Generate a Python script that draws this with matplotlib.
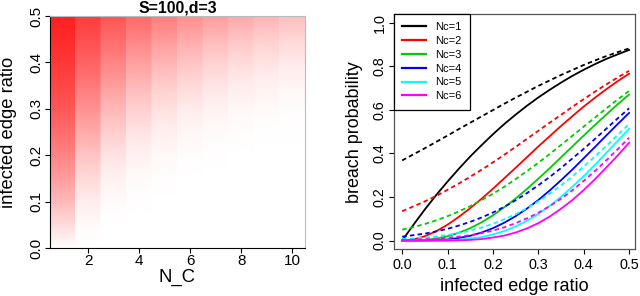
import numpy as np
import matplotlib.pyplot as plt
from matplotlib.colors import LinearSegmentedColormap

plt.rcParams['font.family'] = ['Liberation Sans', 'DejaVu Sans']

# x values of the right panel (infected edge ratio)
ratio = [0.000, 0.025, 0.050, 0.075, 0.100, 0.125, 0.150, 0.175, 0.200, 0.225, 0.250,
         0.275, 0.300, 0.325, 0.350, 0.375, 0.400, 0.425, 0.450, 0.475, 0.500]

# solid curves
solid_nc1 = [0.000, 0.073, 0.143, 0.209, 0.271, 0.330, 0.386, 0.438, 0.488, 0.535, 0.578,
             0.619, 0.657, 0.692, 0.725, 0.756, 0.784, 0.810, 0.834, 0.855, 0.875]
solid_nc2 = [0.000, 0.005, 0.020, 0.043, 0.073, 0.109, 0.149, 0.192, 0.238, 0.286, 0.334,
             0.383, 0.432, 0.479, 0.526, 0.571, 0.615, 0.656, 0.695, 0.732, 0.766]
solid_nc3 = [0.000, 0.000, 0.003, 0.009, 0.020, 0.036, 0.057, 0.084, 0.116, 0.153, 0.193,
             0.237, 0.284, 0.332, 0.382, 0.432, 0.482, 0.531, 0.579, 0.626, 0.670]
solid_nc4 = [0.000, 0.000, 0.000, 0.002, 0.005, 0.012, 0.022, 0.037, 0.057, 0.082, 0.112,
             0.147, 0.186, 0.230, 0.277, 0.326, 0.378, 0.430, 0.483, 0.535, 0.586]
solid_nc5 = [0.000, 0.000, 0.000, 0.000, 0.001, 0.004, 0.009, 0.016, 0.028, 0.044, 0.065,
             0.091, 0.122, 0.159, 0.201, 0.247, 0.296, 0.348, 0.403, 0.458, 0.513]
solid_nc6 = [0.000, 0.000, 0.000, 0.000, 0.000, 0.001, 0.003, 0.007, 0.014, 0.023, 0.037,
             0.056, 0.080, 0.110, 0.146, 0.186, 0.232, 0.282, 0.336, 0.391, 0.449]

# dashed curves
dashed_nc1 = [0.368, 0.396, 0.424, 0.453, 0.482, 0.512, 0.541, 0.570, 0.599, 0.628, 0.656,
              0.683, 0.710, 0.735, 0.760, 0.783, 0.806, 0.827, 0.847, 0.865, 0.882]
dashed_nc2 = [0.135, 0.157, 0.180, 0.205, 0.233, 0.262, 0.293, 0.325, 0.359, 0.394, 0.430,
              0.467, 0.504, 0.541, 0.577, 0.614, 0.649, 0.684, 0.717, 0.749, 0.779]
dashed_nc3 = [0.050, 0.062, 0.076, 0.093, 0.112, 0.134, 0.158, 0.186, 0.215, 0.247, 0.282,
              0.319, 0.357, 0.397, 0.439, 0.481, 0.523, 0.565, 0.607, 0.648, 0.687]
dashed_nc4 = [0.018, 0.025, 0.032, 0.042, 0.054, 0.069, 0.086, 0.106, 0.129, 0.155, 0.185,
              0.218, 0.254, 0.292, 0.333, 0.377, 0.421, 0.467, 0.514, 0.561, 0.607]
dashed_nc5 = [0.007, 0.010, 0.014, 0.019, 0.026, 0.035, 0.046, 0.060, 0.077, 0.098, 0.121,
              0.149, 0.180, 0.215, 0.253, 0.295, 0.340, 0.387, 0.435, 0.485, 0.535]
dashed_nc6 = [0.002, 0.004, 0.006, 0.009, 0.013, 0.018, 0.025, 0.034, 0.046, 0.061, 0.080,
              0.102, 0.128, 0.158, 0.192, 0.231, 0.274, 0.320, 0.369, 0.420, 0.472]

nc_labels = ['Nc=1', 'Nc=2', 'Nc=3', 'Nc=4', 'Nc=5', 'Nc=6']
nc_colors = ['black', 'red', '#00CD00', 'blue', 'cyan', 'magenta']

# heatmap: one column per N_C, sampled along the infected edge ratio
heat_ratio = [0.00, 0.05, 0.10, 0.15, 0.20, 0.25, 0.30, 0.35, 0.40, 0.45, 0.50]
heat_nc = [1, 2, 3, 4, 5, 6, 7, 8, 9, 10]
heat_cols = [
    [0.000, 0.143, 0.271, 0.386, 0.488, 0.578, 0.657, 0.725, 0.784, 0.834, 0.875],
    [0.000, 0.020, 0.073, 0.149, 0.238, 0.334, 0.432, 0.526, 0.615, 0.695, 0.766],
    [0.000, 0.003, 0.020, 0.057, 0.116, 0.193, 0.284, 0.382, 0.482, 0.579, 0.670],
    [0.000, 0.000, 0.005, 0.022, 0.057, 0.112, 0.186, 0.277, 0.378, 0.483, 0.586],
    [0.000, 0.000, 0.001, 0.009, 0.028, 0.065, 0.122, 0.201, 0.296, 0.403, 0.513],
    [0.000, 0.000, 0.000, 0.003, 0.014, 0.037, 0.080, 0.146, 0.232, 0.336, 0.449],
    [0.000, 0.000, 0.000, 0.001, 0.007, 0.022, 0.053, 0.106, 0.182, 0.280, 0.393],
    [0.000, 0.000, 0.000, 0.000, 0.003, 0.012, 0.035, 0.077, 0.143, 0.233, 0.344],
    [0.000, 0.000, 0.000, 0.000, 0.002, 0.007, 0.023, 0.056, 0.112, 0.194, 0.301],
    [0.000, 0.000, 0.000, 0.000, 0.001, 0.004, 0.015, 0.040, 0.088, 0.162, 0.263],
]

W, H = 640, 296
fig = plt.figure(figsize=(W / 100, H / 100), dpi=100)

# ---- left panel: heatmap ----
ax1 = fig.add_axes([50 / W, (H - 248) / H, 255 / W, 232 / H])
cmap = LinearSegmentedColormap.from_list('white_red', ['white', 'red'])
for nc, col in zip(heat_nc, heat_cols):
    c = np.array(col)
    ax1.pcolormesh([nc - 0.5, nc + 0.5], heat_ratio, np.column_stack([c, c]),
                   shading='gouraud', cmap=cmap, vmin=0, vmax=1)
ax1.set_xlim(0.5, 10.5)
ax1.set_ylim(0, 0.5)
ax1.set_xticks([2, 4, 6, 8, 10])
ax1.set_yticks([0, 0.1, 0.2, 0.3, 0.4, 0.5])
ax1.set_yticklabels(['0.0', '0.1', '0.2', '0.3', '0.4', '0.5'])
ax1.tick_params(labelsize=11, length=3.6, width=0.8)
ax1.tick_params(axis='x', pad=1)
ax1.tick_params(axis='y', labelrotation=90, pad=1.5)
for lbl in ax1.get_yticklabels():
    lbl.set_va('center')
for side in ['top', 'right']:
    ax1.spines[side].set_color('#bbbbbb')
for side in ['left', 'bottom']:
    ax1.spines[side].set_color('black')
ax1.set_title('S=100,d=3', fontsize=11.4, fontweight='bold', pad=2.6)
ax1.set_xlabel('N_C', fontsize=13.3, va='center')
ax1.xaxis.set_label_coords(0.5, -0.125)
ax1.set_ylabel('infected edge ratio', fontsize=13.2, va='center')
ax1.yaxis.set_label_coords(-0.161, 0.5)

# ---- right panel: breach probability curves ----
ax2 = fig.add_axes([394 / W, (H - 249.3) / H, 241 / W, 235.3 / H])
solids = [solid_nc1, solid_nc2, solid_nc3, solid_nc4, solid_nc5, solid_nc6]
dasheds = [dashed_nc1, dashed_nc2, dashed_nc3, dashed_nc4, dashed_nc5, dashed_nc6]
for s, d, color, lab in zip(solids, dasheds, nc_colors, nc_labels):
    ax2.plot(ratio, s, color=color, lw=1.3, label=lab)
    ax2.plot(ratio, d, color=color, lw=1.3, ls=(0, (2.5, 1.8)))
ax2.set_xlim(-0.018, 0.513)
ax2.set_ylim(-0.04, 1.04)
ax2.set_xticks([0, 0.1, 0.2, 0.3, 0.4, 0.5])
ax2.set_xticklabels(['0.0', '0.1', '0.2', '0.3', '0.4', '0.5'])
ax2.set_yticks([0, 0.2, 0.4, 0.6, 0.8, 1.0])
ax2.set_yticklabels(['0.0', '0.2', '0.4', '0.6', '0.8', '1.0'])
ax2.tick_params(labelsize=10.4, length=3.6, width=0.8)
ax2.tick_params(axis='x', pad=3)
ax2.tick_params(axis='y', labelrotation=90, pad=1.8)
for lbl in ax2.get_yticklabels():
    lbl.set_va('center')
for sp in ax2.spines.values():
    sp.set_color('#555555')
    sp.set_linewidth(0.9)
ax2.set_xlabel('infected edge ratio', fontsize=13, va='center')
ax2.xaxis.set_label_coords(0.5, -0.158)
ax2.set_ylabel('breach probability', fontsize=12.9, va='center')
ax2.yaxis.set_label_coords(-0.162, 0.5)

leg = ax2.legend(loc='upper left', borderaxespad=0, fontsize=8, frameon=True,
                 fancybox=False, edgecolor='black', framealpha=1,
                 handlelength=2.1, handletextpad=0.85, labelspacing=0.34,
                 borderpad=0.75)
leg.get_frame().set_linewidth(0.9)
for line in leg.get_lines():
    line.set_linewidth(1.6)

fig.savefig('out.png', dpi=100)
